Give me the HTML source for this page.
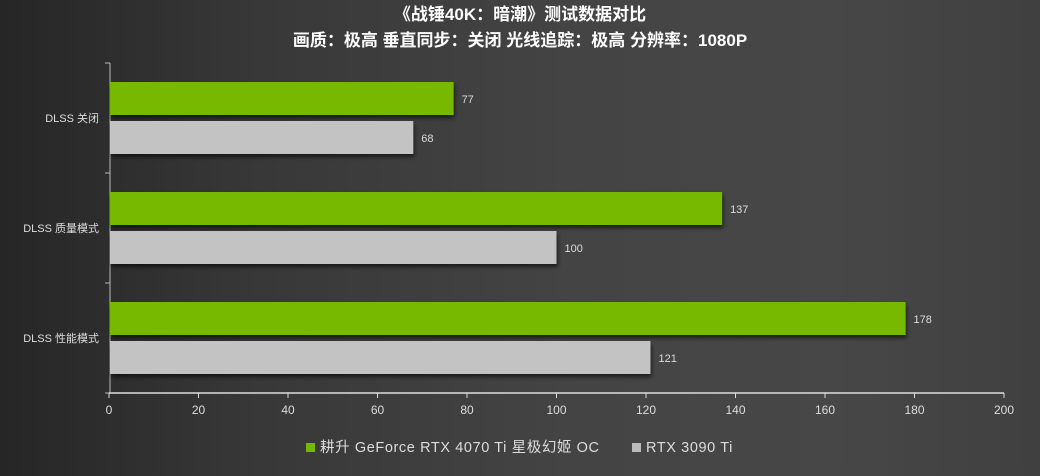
<!DOCTYPE html>
<html><head><meta charset="utf-8"><style>
html,body{margin:0;padding:0}
body{width:1040px;height:471px;overflow:hidden;background:linear-gradient(90deg,#262626 0%,#383838 25%,#444 55%,#474747 80%,#404040 100%);font-family:"Liberation Sans","Noto Sans CJK SC",sans-serif}
</style></head><body>
<svg id="chart" width="1040" height="471" xmlns="http://www.w3.org/2000/svg" style="font-family:'Liberation Sans','Noto Sans CJK SC',sans-serif">
<defs><filter id="sh" x="-5%" y="-20%" width="110%" height="160%"><feDropShadow dx="1" dy="3" stdDeviation="2" flood-color="#000" flood-opacity="0.6"/></filter></defs>
<text x="520" y="20" text-anchor="middle" fill="#fff" font-size="17" font-weight="bold">《战锤40K：暗潮》测试数据对比</text>
<text x="520" y="46" text-anchor="middle" fill="#fff" font-size="17" font-weight="bold">画质：极高 垂直同步：关闭 光线追踪：极高 分辨率：1080P</text>
<g id="plot"></g>
<g>
<rect x="306" y="443" width="9" height="9" fill="#76b900"/>
<text x="320" y="452" fill="#ddd" font-size="14.5" letter-spacing="0.6">耕升 GeForce RTX 4070 Ti 星极幻姬 OC</text>
<rect x="632" y="443" width="9" height="9" fill="#bbb"/>
<text x="646" y="452" fill="#ddd" font-size="14.5" letter-spacing="0.6">RTX 3090 Ti</text>
</g>
</svg>
<script>
const categories = ["DLSS 关闭","DLSS 质量模式","DLSS 性能模式"];
const series4070 = [77,137,178];
const series3090 = [68,100,121];
const xTicks = [0,20,40,60,80,100,120,140,160,180,200];
const NS="http://www.w3.org/2000/svg";
const g=document.getElementById('plot');
const x0=109,x1=1004,xmax=200,yTop=63,band=110;
const xs=v=>x0+(x1-x0)*v/xmax;
function mk(t,a){const e=document.createElementNS(NS,t);for(const k in a)e.setAttribute(k,a[k]);g.appendChild(e);return e;}
const bottom=yTop+band*categories.length;
let e=mk('line',{x1:x0+1,y1:yTop,x2:x0+1,y2:bottom,stroke:'#bbb','stroke-width':1});


for(let i=0;i<=categories.length;i++){
 e=mk('line',{x1:x0-4,y1:yTop+i*band,x2:x0+1,y2:yTop+i*band,stroke:'#bbb'});
 
 
}
categories.forEach((c,i)=>{
 const b=yTop+i*band;
 e=mk('text',{x:x0-10,y:b+band/2+4,'text-anchor':'end',fill:'#ddd','font-size':11});
 e.textContent=c;
 
 
 [[series4070[i],'#76b900',19,'bar-4070ti'],[series3090[i],'#c3c3c3',58,'bar-3090ti']].forEach(([v,col,off,nm])=>{
  e=mk('rect',{x:x0+1,y:b+off,width:xs(v)-x0-1,height:33,fill:col,filter:'url(#sh)'});
  
  
  e=mk('text',{x:xs(v)+8,y:b+off+21,fill:'#ddd','font-size':11});
  e.textContent=v;
  
  
 });
});
e=mk('line',{x1:x0,y1:bottom,x2:x1,y2:bottom,stroke:'#ddd','stroke-width':1.5});


xTicks.forEach(t=>{
 e=mk('line',{x1:xs(t),y1:bottom,x2:xs(t),y2:bottom+5,stroke:'#ddd'});
 
 
 e=mk('text',{x:xs(t),y:bottom+21,'text-anchor':'middle',fill:'#ddd','font-size':12});
 e.textContent=t;
 
 
});
</script>
</body></html>
